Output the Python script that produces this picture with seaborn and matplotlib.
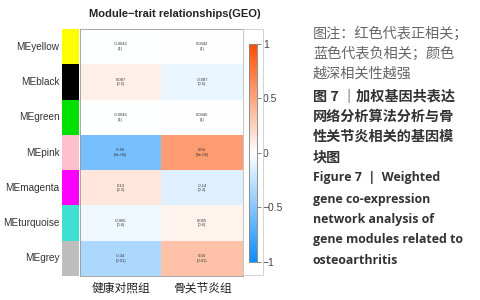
import numpy as np
import pandas as pd
import matplotlib
matplotlib.use("Agg")
import matplotlib.pyplot as plt
import seaborn as sns
from matplotlib.colors import LinearSegmentedColormap, ListedColormap
from matplotlib.patches import Rectangle

# Données
modules = ["MEyellow", "MEblack", "MEgreen", "MEpink", "MEmagenta", "MEturquoise", "MEgrey"]
module_colors = ["#FFFF00", "#000000", "#00E000", "#FFC0CB", "#FF00FF", "#40E0D0", "#BEBEBE"]
traits = ["健康对照组", "骨关节炎组"]
cor_healthy = [-0.0042, 0.087, -0.0046, -0.56, 0.14, -0.065, -0.34]
cor_oa = [0.0042, -0.087, 0.0046, 0.56, -0.14, 0.065, 0.34]
p_healthy = ["(1)", "(0.5)", "(1)", "(9e-06)", "(0.3)", "(0.6)", "(0.01)"]
p_oa = ["(1)", "(0.5)", "(1)", "(9e-06)", "(0.3)", "(0.6)", "(0.01)"]
cbar_ticks = [1, 0.5, 0, -0.5, -1]

sns.set_theme(style="white")
plt.rcParams["font.family"] = ["Liberation Sans", "Noto Sans CJK SC"]
plt.rcParams["axes.unicode_minus"] = True

cor = pd.DataFrame({traits[0]: cor_healthy, traits[1]: cor_oa}, index=modules)
labels = np.array([[f"{c:.2g}\n{p}" for c, p in zip(cor_healthy, p_healthy)],
                   [f"{c:.2g}\n{p}" for c, p in zip(cor_oa, p_oa)]]).T

# palette bleu-blanc-rouge (style WGCNA)
cmap = LinearSegmentedColormap.from_list("bwr_wgcna", [(0.05, 0.55, 1.0), (1, 1, 1), (1.0, 0.3, 0.0)])

fig = plt.figure(figsize=(4.81, 3.0), dpi=100)
ax_strip = fig.add_axes([0.129, 0.08, 0.035, 0.823])
ax = fig.add_axes([0.166, 0.08, 0.339, 0.823])
cax = fig.add_axes([0.517, 0.127, 0.018, 0.727])

# bande de couleur des modules
strip = pd.DataFrame({"c": np.arange(len(modules))}, index=modules)
sns.heatmap(strip, ax=ax_strip, cmap=ListedColormap(module_colors), cbar=False,
            xticklabels=False, yticklabels=True)
ax_strip.set_ylabel("")
ax_strip.tick_params(axis="y", length=0, labelsize=7.2, pad=2, rotation=0)
for t in ax_strip.get_yticklabels():
    t.set_color("#333333")

sns.heatmap(cor, ax=ax, cmap=cmap, vmin=-1, vmax=1, annot=labels, fmt="",
            annot_kws={"fontsize": 3, "color": "#333333"}, cbar_ax=cax,
            cbar_kws={"ticks": cbar_ticks}, yticklabels=False)
ax.tick_params(axis="x", length=0, labelsize=8.5, pad=5, rotation=0)
for t in ax.get_xticklabels():
    t.set_color("#222222")
for s in ax.spines.values():
    s.set_visible(True)
    s.set_color("#999999")
    s.set_linewidth(0.6)

cax.tick_params(labelsize=7.5, length=3, width=0.5, color="#555555", pad=1)
cax.set_yticklabels(["1", "0.5", "0", "\u22120.5", "\u22121"])
for t in cax.get_yticklabels():
    t.set_color("#444444")
for s in cax.spines.values():
    s.set_visible(True)
    s.set_color("#888888")
    s.set_linewidth(0.5)

# cadre gris autour de la légende
fig.add_artist(Rectangle((0.505, 0.083), 0.042, 0.82, transform=fig.transFigure,
                         fill=False, edgecolor="#cccccc", linewidth=0.6))

fig.text(0.364, 0.952, "Module\u2212trait relationships(GEO)", ha="center", va="center",
         fontsize=8, fontweight="bold", color="#222222")

# légende de la figure (texte à droite)
cn = ["Noto Sans CJK SC", "DejaVu Sans"]
x0 = 313 / 481
lines = [
    ("图注：红色代表正相关；", 34, "normal", "#666666", cn, 10.2),
    ("蓝色代表负相关；颜色", 54, "normal", "#666666", cn, 10.2),
    ("越深相关性越强", 74, "normal", "#666666", cn, 10.2),
    ("图 7 ｜加权基因共表达", 97, "bold", "#333333", cn, 10.2),
    ("网络分析算法分析与骨", 117, "bold", "#333333", cn, 10.2),
    ("性关节炎相关的基因模", 137, "bold", "#333333", cn, 10.2),
    ("块图", 158, "bold", "#333333", cn, 10.2),
    ("Figure 7  |  Weighted", 178, "bold", "#333333", ["Open Sans"], 8.9),
    ("gene co-expression", 199, "bold", "#333333", ["Open Sans"], 8.9),
    ("network analysis of", 219, "bold", "#333333", ["Open Sans"], 8.9),
    ("gene modules related to", 240, "bold", "#333333", ["Open Sans"], 8.9),
    ("osteoarthritis", 261, "bold", "#333333", ["Open Sans"], 8.9),
]
for txt, y, w, col, fam, fs in lines:
    fig.text(x0, 1 - y / 300, txt, ha="left", va="center", fontsize=fs,
             fontweight=w, color=col, family=fam)

fig.savefig("out.png", dpi=100)
